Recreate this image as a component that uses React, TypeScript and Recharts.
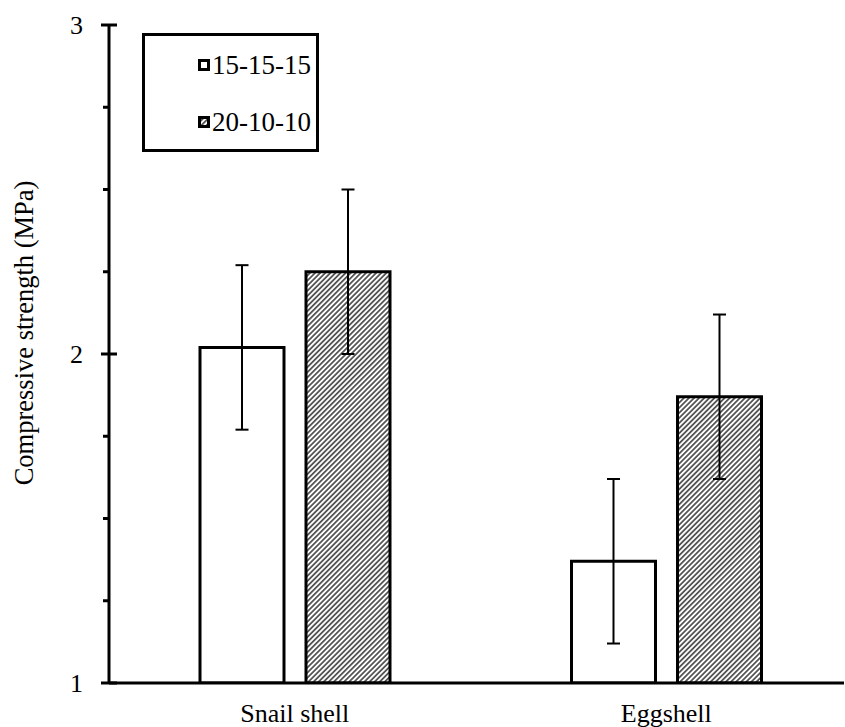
import React from 'react';
import { BarChart, Bar, XAxis, YAxis, ErrorBar, Legend, Label } from 'recharts';

// values
const categories = ['Snail shell', 'Eggshell'];
const seriesNames = ['15-15-15', '20-10-10'];
const strength1 = [2.02, 1.37];
const strength2 = [2.25, 1.87];
const error1 = [0.25, 0.25];
const error2 = [0.25, 0.25];
const yTicks = [1, 1.25, 1.5, 1.75, 2, 2.25, 2.5, 2.75, 3];

const data = categories.map((name, i) => ({
  name,
  s1: strength1[i],
  e1: error1[i],
  s2: strength2[i],
  e2: error2[i],
}));

const FONT = '"Liberation Serif", "Times New Roman", serif';

const YTick = (props: any) => {
  const { x, y, payload } = props;
  const major = Number.isInteger(payload.value);
  return (
    <g>
      <line x1={major ? x - 8 : x - 6} x2={major ? x + 8 : x} y1={y} y2={y} stroke="#000" strokeWidth={3} />
      {major && (
        <text x={x - 26} y={y + 9} textAnchor="end" fontSize={26} fontFamily={FONT} fill="#000">
          {payload.value}
        </text>
      )}
    </g>
  );
};

const XTick = (props: any) => {
  const { x, y, payload } = props;
  return (
    <text x={x} y={y + 39} textAnchor="middle" fontSize={26} fontFamily={FONT} fill="#000">
      {payload.value}
    </text>
  );
};

const YLabel = (props: any) => {
  const vb = props.viewBox || { x: 0, y: 25, height: 658 };
  const cx = vb.x + 33;
  const cy = vb.y + vb.height / 2 - 21;
  return (
    <text
      transform={`translate(${cx},${cy}) rotate(-90)`}
      textAnchor="middle"
      fontSize={26.5}
      fontFamily={FONT}
      fill="#000"
    >
      Compressive strength (MPa)
    </text>
  );
};

const LegendBox = (props: any) => {
  const items = props.payload || [];
  return (
    <div
      style={{
        position: 'relative',
        width: 177,
        height: 119,
        border: '3px solid #000',
        boxSizing: 'border-box',
        background: '#fff',
      }}
    >
      {items.map((entry: any, i: number) => (
        <div key={entry.value} style={{ position: 'absolute', left: 53, top: 13 + i * 57, height: 32, display: 'flex', alignItems: 'center' }}>
          <svg width={12} height={12} style={{ display: 'block' }}>
            <rect x={1.5} y={1.5} width={9} height={9} fill={entry.color} stroke="#000" strokeWidth={3} />
          </svg>
          <span style={{ marginLeft: 2, fontFamily: FONT, fontSize: 27, lineHeight: '32px', color: '#000' }}>
            {entry.value}
          </span>
        </div>
      ))}
    </div>
  );
};

export default function App() {
  return (
    <div style={{ position: 'absolute', left: 0, top: 0, background: '#fff' }}>
      <BarChart
        width={845}
        height={727}
        data={data}
        margin={{ top: 25, right: 1, bottom: 0, left: 0 }}
        barGap={22}
      >
        <defs>
          <pattern id="hatch" patternUnits="userSpaceOnUse" width={3.6} height={3.6} patternTransform="rotate(45)">
            <rect width={3.6} height={3.6} fill="#fff" />
            <line x1={1.8} y1={0} x2={1.8} y2={3.6} stroke="#333" strokeWidth={1.5} />
          </pattern>
        </defs>
        <XAxis
          dataKey="name"
          height={44}
          padding={{ left: 0, right: -8 }}
          axisLine={{ stroke: '#000', strokeWidth: 3 }}
          tickLine={false}
          tickSize={0}
          tickMargin={0}
          tick={<XTick />}
          interval={0}
        />
        <YAxis
          type="number"
          domain={[1, 3]}
          ticks={yTicks}
          interval={0}
          width={109}
          allowDataOverflow
          axisLine={{ stroke: '#000', strokeWidth: 3 }}
          tickLine={false}
          tickSize={0}
          tickMargin={0}
          tick={<YTick />}
        >
          <Label content={<YLabel />} />
        </YAxis>
        <Legend
          layout="vertical"
          align="center"
          verticalAlign="middle"
          wrapperStyle={{ left: 142, top: 33, width: 177, height: 119 }}
          content={<LegendBox />}
        />
        <Bar
          dataKey="s1"
          name={seriesNames[0]}
          fill="#fff"
          stroke="#000"
          strokeWidth={3}
          barSize={84}
          isAnimationActive={false}
        >
          <ErrorBar dataKey="e1" width={6.5} stroke="#000" strokeWidth={2} />
        </Bar>
        <Bar
          dataKey="s2"
          name={seriesNames[1]}
          fill="url(#hatch)"
          stroke="#000"
          strokeWidth={3}
          barSize={84}
          isAnimationActive={false}
        >
          <ErrorBar dataKey="e2" width={6.5} stroke="#000" strokeWidth={2} />
        </Bar>
      </BarChart>
    </div>
  );
}
